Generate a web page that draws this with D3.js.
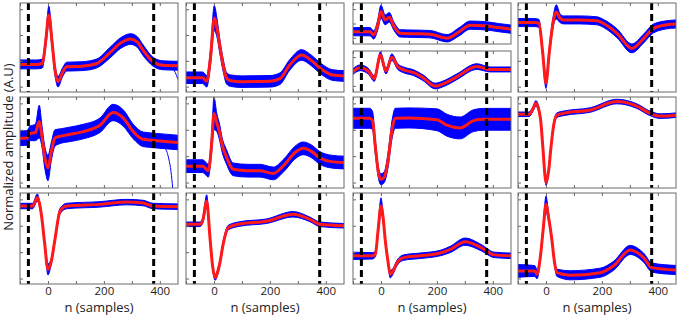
<!DOCTYPE html>
<html>
<head>
<meta charset="utf-8">
<script src="https://cdn.jsdelivr.net/npm/d3@7"></script>
<style>
  body { margin: 0; background: #fff; }
  text { font-family: "Open Sans", sans-serif; fill: #222; }
</style>
</head>
<body>
<svg id="drawing_region"></svg>
<script>
// shared axis settings
const xDomain = [-100, 465];
const xTicks = [-100, 0, 100, 200, 300, 400];
const xTickLabels = [0, 200, 400];
const markers = [-70, 378];
const yTicks = [0.06, 0.35, 0.64, 0.93];
const yTicksSmall = [0.15, 0.5, 0.85];

// column 1, row 1
const n_c1r1 = [-100, -60, -40, -20, -7, 3, 15, 25, 36, 52, 67, 120, 174, 221, 260, 296, 320, 340, 376, 411, 465];
const m_c1r1 = [0.31, 0.31, 0.31, 0.32, 0.6, 0.865, 0.55, 0.25, 0.116, 0.22, 0.285, 0.29, 0.32, 0.44, 0.55, 0.595, 0.56, 0.47, 0.34, 0.30, 0.295];
const s_c1r1 = [0.05, 0.05, 0.05, 0.05, 0.07, 0.1, 0.07, 0.06, 0.06, 0.05, 0.05, 0.05, 0.05, 0.06, 0.06, 0.06, 0.06, 0.06, 0.05, 0.05, 0.05];
const n_c1r1out = [411, 440, 455, 465];
const m_c1r1out = [0.30, 0.28, 0.22, 0.14];
// column 2, row 1
const n_c2r1 = [-100, -40, -26, -12, 1, 12, 21, 33, 45, 60, 100, 200, 236, 270, 313, 350, 379, 425, 465];
const m_c2r1 = [0.16, 0.16, 0.12, 0.4, 0.83, 0.7, 0.51, 0.3, 0.155, 0.127, 0.116, 0.12, 0.15, 0.3, 0.416, 0.35, 0.27, 0.19, 0.18];
const s_c2r1 = [0.065, 0.065, 0.065, 0.09, 0.14, 0.1, 0.08, 0.07, 0.065, 0.065, 0.065, 0.065, 0.065, 0.06, 0.06, 0.06, 0.06, 0.06, 0.06];
// column 3, row 1 (upper half)
const n_c3r1a = [-100, -39, -26, -12, 0, 15, 30, 45, 69, 120, 175, 236, 280, 319, 379, 420, 468];
const m_c3r1a = [0.30, 0.30, 0.22, 0.45, 0.79, 0.59, 0.65, 0.45, 0.26, 0.25, 0.24, 0.14, 0.30, 0.46, 0.44, 0.40, 0.36];
const s_c3r1a = [0.1, 0.1, 0.1, 0.12, 0.16, 0.12, 0.12, 0.1, 0.09, 0.09, 0.09, 0.09, 0.1, 0.1, 0.1, 0.1, 0.1];
// column 3, row 1 (lower half)
const n_c3r1b = [-100, -74, -44, -24, -2, 18, 39, 60, 81, 117, 150, 194, 230, 271, 343, 390, 468];
const m_c3r1b = [0.50, 0.59, 0.50, 0.33, 0.90, 0.51, 0.85, 0.62, 0.54, 0.47, 0.35, 0.146, 0.22, 0.37, 0.62, 0.55, 0.55];
const s_c3r1b = [0.07, 0.07, 0.07, 0.07, 0.08, 0.07, 0.08, 0.07, 0.07, 0.07, 0.07, 0.07, 0.07, 0.07, 0.07, 0.06, 0.06];
// column 4, row 1
const n_c4r1 = [-100, -40, -25, -12, 0, 12, 27, 37, 50, 63, 120, 182, 206, 254, 307, 349, 385, 445, 465];
const m_c4r1 = [0.78, 0.78, 0.77, 0.45, 0.10, 0.45, 0.81, 0.90, 0.83, 0.81, 0.81, 0.80, 0.77, 0.66, 0.49, 0.60, 0.715, 0.76, 0.765];
const s_c4r1 = [0.045, 0.045, 0.045, 0.05, 0.06, 0.05, 0.06, 0.08, 0.05, 0.045, 0.045, 0.045, 0.045, 0.05, 0.05, 0.05, 0.05, 0.045, 0.045];

// column 1, row 2
const n_c1r2 = [-100, -75, -64, -45, -31, -22, -12, 0, 12, 25, 45, 80, 126, 186, 233, 269, 305, 340, 388, 465];
const m_c1r2 = [0.546, 0.55, 0.60, 0.61, 0.73, 0.58, 0.35, 0.22, 0.40, 0.55, 0.57, 0.59, 0.62, 0.69, 0.83, 0.77, 0.62, 0.535, 0.52, 0.50];
const s_c1r2 = [0.08, 0.08, 0.08, 0.09, 0.18, 0.12, 0.12, 0.14, 0.1, 0.09, 0.08, 0.08, 0.08, 0.08, 0.09, 0.09, 0.08, 0.08, 0.08, 0.08];
const n_c1r2out = [380, 400, 420, 432, 440, 446];
const m_c1r2out = [0.50, 0.46, 0.43, 0.32, 0.18, 0.0];
// column 2, row 2
const n_c2r2 = [-100, -40, -20, -8, 0, 10, 21, 28, 45, 69, 120, 164, 212, 250, 290, 319, 350, 379, 420, 465];
const m_c2r2 = [0.24, 0.24, 0.19, 0.5, 0.82, 0.72, 0.60, 0.49, 0.34, 0.205, 0.19, 0.19, 0.16, 0.25, 0.39, 0.436, 0.40, 0.33, 0.29, 0.28];
const s_c2r2 = [0.07, 0.07, 0.07, 0.1, 0.18, 0.1, 0.09, 0.08, 0.08, 0.07, 0.07, 0.07, 0.07, 0.07, 0.07, 0.07, 0.07, 0.07, 0.07, 0.07];
// column 3, row 2
const n_c3r2 = [-100, -40, -30, -20, -8, 0, 12, 25, 40, 51, 100, 200, 236, 283, 331, 367, 465];
const m_c3r2 = [0.766, 0.766, 0.74, 0.45, 0.15, 0.096, 0.12, 0.30, 0.65, 0.766, 0.77, 0.75, 0.69, 0.66, 0.74, 0.755, 0.755];
const s_c3r2 = [0.11, 0.11, 0.1, 0.08, 0.06, 0.06, 0.06, 0.08, 0.1, 0.11, 0.11, 0.12, 0.12, 0.12, 0.12, 0.12, 0.12];
// column 4, row 2
const n_c4r2 = [-100, -60, -48, -36, -20, -10, -4, 0, 10, 17, 27, 39, 63, 158, 254, 325, 372, 408, 465];
const m_c4r2 = [0.81, 0.81, 0.86, 0.93, 0.77, 0.4, 0.15, 0.06, 0.2, 0.42, 0.68, 0.80, 0.82, 0.857, 0.95, 0.90, 0.82, 0.79, 0.80];
const s_c4r2 = [0.025, 0.025, 0.025, 0.03, 0.03, 0.03, 0.03, 0.03, 0.03, 0.03, 0.03, 0.025, 0.025, 0.025, 0.025, 0.025, 0.025, 0.025, 0.025];

// column 1, row 3
const n_c1r3 = [-100, -55, -38, -30, -23, -12, 0, 12, 25, 43, 67, 186, 281, 340, 376, 465];
const m_c1r3 = [0.857, 0.857, 0.95, 0.88, 0.75, 0.45, 0.16, 0.25, 0.49, 0.80, 0.857, 0.875, 0.90, 0.89, 0.857, 0.85];
const s_c1r3 = [0.03, 0.03, 0.04, 0.03, 0.03, 0.03, 0.06, 0.03, 0.03, 0.03, 0.03, 0.03, 0.03, 0.03, 0.03, 0.03];
// column 2, row 3
const n_c2r3 = [-100, -50, -40, -26, -14, -5, 4, 12, 21, 33, 51, 93, 188, 283, 343, 379, 465];
const m_c2r3 = [0.656, 0.656, 0.70, 0.91, 0.5, 0.2, 0.07, 0.12, 0.23, 0.44, 0.62, 0.66, 0.69, 0.766, 0.71, 0.656, 0.64];
const s_c2r3 = [0.025, 0.025, 0.03, 0.07, 0.03, 0.03, 0.03, 0.03, 0.03, 0.03, 0.025, 0.025, 0.025, 0.03, 0.025, 0.025, 0.025];
// column 3, row 3
const n_c3r3 = [-100, -30, -20, -10, 0, 8, 15, 25, 33, 45, 57, 81, 140, 212, 248, 301, 358, 405, 465];
const m_c3r3 = [0.31, 0.31, 0.33, 0.6, 0.857, 0.72, 0.49, 0.25, 0.107, 0.15, 0.23, 0.29, 0.31, 0.34, 0.38, 0.465, 0.40, 0.32, 0.31];
const s_c3r3 = [0.04, 0.035, 0.03, 0.04, 0.09, 0.04, 0.03, 0.03, 0.04, 0.03, 0.03, 0.03, 0.03, 0.03, 0.035, 0.04, 0.035, 0.03, 0.03];
// column 4, row 3
const n_c4r3 = [-100, -40, -32, -20, -10, 0, 10, 21, 30, 39, 87, 194, 242, 301, 349, 379, 465];
const m_c4r3 = [0.143, 0.143, 0.107, 0.3, 0.6, 0.876, 0.72, 0.49, 0.25, 0.124, 0.096, 0.124, 0.20, 0.374, 0.29, 0.18, 0.154];
const s_c4r3 = [0.07, 0.06, 0.05, 0.04, 0.04, 0.09, 0.04, 0.03, 0.03, 0.04, 0.05, 0.05, 0.05, 0.05, 0.05, 0.05, 0.05];

const cols = [[20, 178], [186, 344], [353, 511], [518, 676]];
const rowsY = { r1: [3, 92], r1a: [3, 44], r1b: [51, 92], r2: [97, 188], r3: [193, 284] };

const panels = [
    { col: 0, row: 'r1', n: n_c1r1, m: m_c1r1, s: s_c1r1, out: [[n_c1r1out, m_c1r1out]] },
    { col: 1, row: 'r1', n: n_c2r1, m: m_c2r1, s: s_c2r1 },
    { col: 2, row: 'r1a', n: n_c3r1a, m: m_c3r1a, s: s_c3r1a, small: true },
    { col: 2, row: 'r1b', n: n_c3r1b, m: m_c3r1b, s: s_c3r1b, small: true },
    { col: 3, row: 'r1', n: n_c4r1, m: m_c4r1, s: s_c4r1 },
    { col: 0, row: 'r2', n: n_c1r2, m: m_c1r2, s: s_c1r2, out: [[n_c1r2out, m_c1r2out]] },
    { col: 1, row: 'r2', n: n_c2r2, m: m_c2r2, s: s_c2r2 },
    { col: 2, row: 'r2', n: n_c3r2, m: m_c3r2, s: s_c3r2 },
    { col: 3, row: 'r2', n: n_c4r2, m: m_c4r2, s: s_c4r2 },
    { col: 0, row: 'r3', n: n_c1r3, m: m_c1r3, s: s_c1r3, labels: true },
    { col: 1, row: 'r3', n: n_c2r3, m: m_c2r3, s: s_c2r3, labels: true },
    { col: 2, row: 'r3', n: n_c3r3, m: m_c3r3, s: s_c3r3, labels: true },
    { col: 3, row: 'r3', n: n_c4r3, m: m_c4r3, s: s_c4r3, labels: true }
];

const svg = d3.select('#drawing_region')
    .attr('width', 677)
    .attr('height', 316);

panels.forEach((p, k) => {
    const [x0, x1] = cols[p.col];
    const [y0, y1] = rowsY[p.row];

    const xscale = d3.scaleLinear().domain(xDomain).range([x0, x1]);
    const yscale = d3.scaleLinear().domain([0, 1]).range([y1, y0]);

    const g = svg.append('g');

    svg.append('clipPath').attr('id', 'clip' + k)
        .append('rect')
        .attr('x', x0).attr('y', y0)
        .attr('width', x1 - x0).attr('height', y1 - y0);

    const plot = g.append('g').attr('clip-path', `url(#clip${k})`);

    const rows = p.n.map((n, i) => ({ n: n, m: p.m[i], s: p.s[i] }));

    const band = d3.area()
        .x(d => xscale(d.n))
        .y0(d => yscale(d.m - d.s))
        .y1(d => yscale(d.m + d.s))
        .curve(d3.curveMonotoneX);

    plot.append('path')
        .datum(rows)
        .attr('d', band)
        .attr('fill', '#0000ff')
        .attr('stroke', '#0000ff')
        .attr('stroke-width', 1);

    const line = d3.line()
        .x(d => xscale(d.n))
        .y(d => yscale(d.m))
        .curve(d3.curveMonotoneX);

    (p.out || []).forEach(([on, om]) => {
        plot.append('path')
            .datum(on.map((n, i) => ({ n: n, m: om[i] })))
            .attr('d', line)
            .attr('fill', 'none')
            .attr('stroke', '#0000ff')
            .attr('stroke-width', 1);
    });

    plot.append('path')
        .datum(rows)
        .attr('d', line)
        .attr('fill', 'none')
        .attr('stroke', '#ff1a1a')
        .attr('stroke-width', 3);

    plot.selectAll('line.marker')
        .data(markers)
        .enter()
        .append('line')
        .attr('class', 'marker')
        .attr('x1', d => xscale(d)).attr('x2', d => xscale(d))
        .attr('y1', y0).attr('y2', y1)
        .attr('stroke', '#000')
        .attr('stroke-width', 3)
        .attr('stroke-dasharray', '7,4');

    // inward tick marks
    const bottom = g.append('g')
        .attr('transform', `translate(0, ${y1})`)
        .call(d3.axisBottom(xscale).tickValues(xTicks).tickSize(-3).tickFormat(''));
    const top = g.append('g')
        .attr('transform', `translate(0, ${y0})`)
        .call(d3.axisTop(xscale).tickValues(xTicks).tickSize(-3).tickFormat(''));
    const left = g.append('g')
        .attr('transform', `translate(${x0}, 0)`)
        .call(d3.axisLeft(yscale).tickValues(p.small ? yTicksSmall : yTicks).tickSize(-3).tickFormat(''));
    [bottom, top, left].forEach(a => {
        a.select('.domain').remove();
        a.selectAll('line').attr('stroke', '#666');
    });

    g.append('rect')
        .attr('x', x0).attr('y', y0)
        .attr('width', x1 - x0).attr('height', y1 - y0)
        .attr('fill', 'none')
        .attr('stroke', '#6b6b6b')
        .attr('stroke-width', 1);

    if (p.labels) {
        const lab = g.append('g')
            .attr('transform', `translate(0, ${y1})`)
            .call(d3.axisBottom(xscale).tickValues(xTickLabels).tickSize(0).tickPadding(3));
        lab.select('.domain').remove();
        lab.selectAll('text')
            .attr('font-size', '11.5px')
            .attr('fill', '#222')
            .style('font-family', '"Open Sans", sans-serif');

        g.append('text')
            .attr('x', (x0 + x1) / 2)
            .attr('y', 312)
            .attr('text-anchor', 'middle')
            .attr('font-size', '13px')
            .text('n (samples)');
    }
});

svg.append('text')
    .attr('transform', 'translate(13, 147) rotate(-90)')
    .attr('text-anchor', 'middle')
    .attr('font-size', '13px')
    .text('Normalized amplitude (A.U)');
</script>
</body>
</html>
